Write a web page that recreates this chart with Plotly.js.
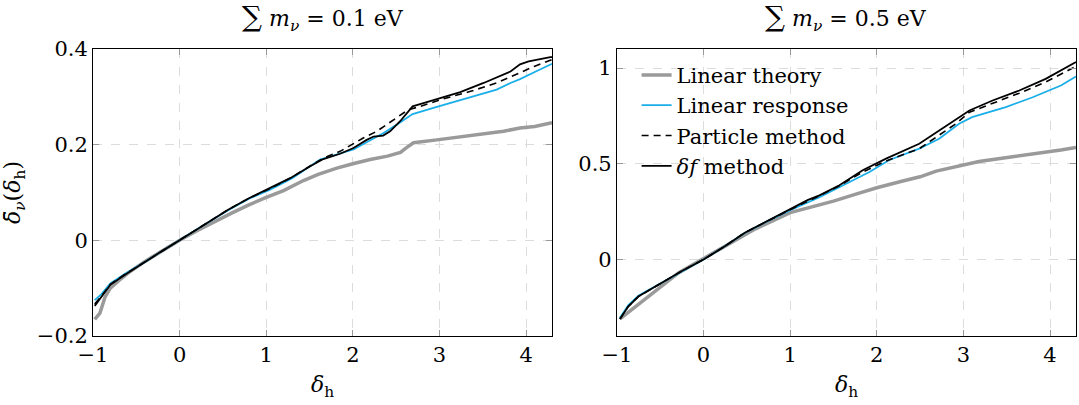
<!DOCTYPE html>
<html><head><meta charset="utf-8">
<script src="https://cdn.plot.ly/plotly-3.0.1.min.js"></script>
<style>body{margin:0;background:#fff}#chart{width:1079px;height:405px}</style>
</head><body><div id="chart"></div>
<script>
// ---- Left panel: sum m_nu = 0.1 eV ----
const xTheory1 = [-0.98,-0.92,-0.86,-0.80,-0.7,-0.6,-0.4,-0.2,0,0.2,0.4,0.6,0.8,1.0,1.2,1.43,1.6,1.815,2.0,2.2,2.4,2.55,2.62,2.70,2.97,3.35,3.74,3.93,4.1,4.3];
const yTheory1 = [-0.165,-0.152,-0.118,-0.100,-0.084,-0.069,-0.044,-0.021,0,0.020,0.039,0.057,0.074,0.090,0.104,0.125,0.138,0.151,0.160,0.169,0.176,0.184,0.194,0.204,0.210,0.218,0.228,0.235,0.238,0.246];

const xResponse1 = [-0.98,-0.90,-0.80,-0.63,-0.4,-0.2,0,0.2,0.4,0.56,0.8,1.045,1.3,1.622,2.007,2.35,2.51,2.62,2.69,2.97,3.35,3.66,3.82,3.93,4.1,4.3];
const yResponse1 = [-0.125,-0.112,-0.090,-0.070,-0.045,-0.022,0,0.023,0.045,0.063,0.087,0.106,0.130,0.169,0.190,0.224,0.242,0.256,0.264,0.279,0.298,0.315,0.329,0.337,0.352,0.369];

const xParticle1 = [-0.98,-0.90,-0.80,-0.63,-0.4,-0.2,0,0.2,0.4,0.56,0.8,1.045,1.276,1.507,1.66,1.853,2.12,2.277,2.51,2.64,2.78,3.05,3.35,3.66,3.91,4.1,4.3];
const yParticle1 = [-0.133,-0.116,-0.092,-0.071,-0.045,-0.022,0,0.023,0.046,0.064,0.088,0.108,0.130,0.156,0.172,0.186,0.214,0.228,0.256,0.273,0.280,0.296,0.311,0.329,0.349,0.364,0.378];

const xDeltaF1 = [-0.98,-0.90,-0.80,-0.63,-0.4,-0.2,0,0.2,0.4,0.56,0.8,1.045,1.276,1.507,1.66,1.853,2.007,2.16,2.24,2.35,2.43,2.546,2.62,2.69,2.815,3.01,3.24,3.51,3.82,3.93,4.03,4.28,4.3];
const yDeltaF1 = [-0.137,-0.118,-0.093,-0.072,-0.045,-0.022,0,0.023,0.046,0.064,0.088,0.109,0.130,0.155,0.170,0.181,0.193,0.210,0.217,0.219,0.228,0.249,0.266,0.280,0.287,0.298,0.310,0.329,0.353,0.368,0.374,0.383,0.383];

// ---- Right panel: sum m_nu = 0.5 eV ----
const xTheory2 = [-0.965,-0.83,-0.677,-0.5,-0.29,0,0.3,0.6,1.0,1.338,1.5,1.75,2.0,2.3,2.5,2.686,2.95,3.18,3.567,3.84,4.126,4.3];
const yTheory2 = [-0.311,-0.263,-0.211,-0.148,-0.070,0.005,0.085,0.16,0.245,0.285,0.305,0.34,0.375,0.41,0.432,0.462,0.49,0.512,0.537,0.553,0.572,0.585];

const xResponse2 = [-0.965,-0.87,-0.753,-0.484,-0.25,0,0.25,0.476,0.75,1.0,1.338,1.569,1.915,2.145,2.49,2.72,2.95,3.1,3.49,3.80,4.126,4.3];
const yResponse2 = [-0.305,-0.24,-0.19,-0.122,-0.059,0,0.07,0.138,0.203,0.258,0.325,0.379,0.457,0.52,0.579,0.631,0.709,0.744,0.796,0.848,0.909,0.956];

const xParticle2 = [-0.965,-0.87,-0.753,-0.484,-0.25,0,0.25,0.476,0.75,1.0,1.338,1.569,1.837,2.107,2.49,2.72,2.915,3.07,3.337,3.645,3.95,4.126,4.3];
const yParticle2 = [-0.311,-0.246,-0.194,-0.124,-0.06,0,0.07,0.14,0.204,0.26,0.333,0.385,0.457,0.515,0.579,0.648,0.71,0.77,0.817,0.869,0.927,0.97,1.01];

const xDeltaF2 = [-0.965,-0.87,-0.753,-0.484,-0.25,0,0.25,0.476,0.75,1.0,1.2,1.338,1.569,1.837,2.107,2.49,2.72,2.915,3.07,3.337,3.645,3.95,4.126,4.3];
const yDeltaF2 = [-0.311,-0.246,-0.194,-0.124,-0.06,0,0.07,0.14,0.205,0.262,0.31,0.335,0.388,0.466,0.527,0.605,0.674,0.735,0.779,0.831,0.883,0.944,0.987,1.032];

const seriesNames = ['Linear theory','Linear response','Particle method','<i>δf</i> method'];
const panelTitles = ['<span style="font-size:28px">∑</span> <i>m</i><sub><i>ν</i></sub> = 0.1 eV','<span style="font-size:28px">∑</span> <i>m</i><sub><i>ν</i></sub> = 0.5 eV'];
const xTickVals = [-1,0,1,2,3,4];
const xTickText = ['−1','0','1','2','3','4'];
const y1TickVals = [-0.2,0,0.2,0.4];
const y1TickText = ['−0.2','0','0.2','0.4'];
const y2TickVals = [0,0.5,1];
const y2TickText = ['0','0.5','1'];

const FONT = "DejaVu Serif";
const styles = [
  {color:'#9a9a9a', width:3.5},
  {color:'#1aaee8', width:1.8},
  {color:'#000000', width:1.6, dash:'7px,5px'},
  {color:'#000000', width:1.8}
];

function mk(x, y, i, axSuffix, show) {
  return {x:x, y:y, type:'scatter', mode:'lines', name:seriesNames[i],
    line:Object.assign({}, styles[i]), xaxis:'x'+axSuffix, yaxis:'y'+axSuffix,
    showlegend:show, hoverinfo:'skip'};
}

const data = [
  mk(xTheory1,yTheory1,0,'',false),
  mk(xResponse1,yResponse1,1,'',false),
  mk(xParticle1,yParticle1,2,'',false),
  mk(xDeltaF1,yDeltaF1,3,'',false),
  mk(xTheory2,yTheory2,0,'2',true),
  mk(xResponse2,yResponse2,1,'2',true),
  mk(xParticle2,yParticle2,2,'2',true),
  mk(xDeltaF2,yDeltaF2,3,'2',true)
];

const axCommon = {
  showline:true, linecolor:'#000', linewidth:1, mirror:'ticks',
  ticks:'inside', ticklen:6, tickcolor:'#999', tickwidth:1,
  showgrid:true, gridcolor:'#dcdcdc', griddash:'dash', gridwidth:1,
  zeroline:false, tickfont:{family:FONT, size:21, color:'#000'}
};

const layout = {
  width:1079, height:405,
  margin:{l:93, r:3, t:49, b:69},
  paper_bgcolor:'#fff', plot_bgcolor:'#fff',
  font:{family:FONT, color:'#000'},
  showlegend:true,
  legend:{x:0.553, y:0.98, xanchor:'left', yanchor:'top', bgcolor:'rgba(255,255,255,0)',
    borderwidth:0, font:{family:FONT, size:21, color:'#000'}, tracegroupgap:0},
  xaxis:Object.assign({}, axCommon, {domain:[0,0.467], range:[-1,4.3], anchor:'y',
    tickvals:xTickVals, ticktext:xTickText,
    title:{text:'<i>δ</i><sub>h</sub>', font:{family:FONT, size:22}, standoff:10}}),
  yaxis:Object.assign({}, axCommon, {domain:[0,1], range:[-0.2,0.4], anchor:'x',
    tickvals:y1TickVals, ticktext:y1TickText,
    title:{text:'<i>δ̄</i><sub><i>ν</i></sub>(<i>δ</i><sub>h</sub>)', font:{family:FONT, size:22}, standoff:10}}),
  xaxis2:Object.assign({}, axCommon, {domain:[0.533,1], range:[-1,4.3], anchor:'y2',
    tickvals:xTickVals, ticktext:xTickText,
    title:{text:'<i>δ</i><sub>h</sub>', font:{family:FONT, size:22}, standoff:10}}),
  yaxis2:Object.assign({}, axCommon, {domain:[0,1], range:[-0.4,1.1], anchor:'x2',
    tickvals:y2TickVals, ticktext:y2TickText}),
  annotations:[
    {text:panelTitles[0], xref:'x domain', yref:'paper', x:0.5, y:1.11, xanchor:'center', yanchor:'middle',
     showarrow:false, font:{family:FONT, size:22, color:'#000'}},
    {text:panelTitles[1], xref:'x2 domain', yref:'paper', x:0.5, y:1.11, xanchor:'center', yanchor:'middle',
     showarrow:false, font:{family:FONT, size:22, color:'#000'}}
  ]
};

Plotly.newPlot('chart', data, layout, {staticPlot:true, displayModeBar:false});
</script></body></html>
